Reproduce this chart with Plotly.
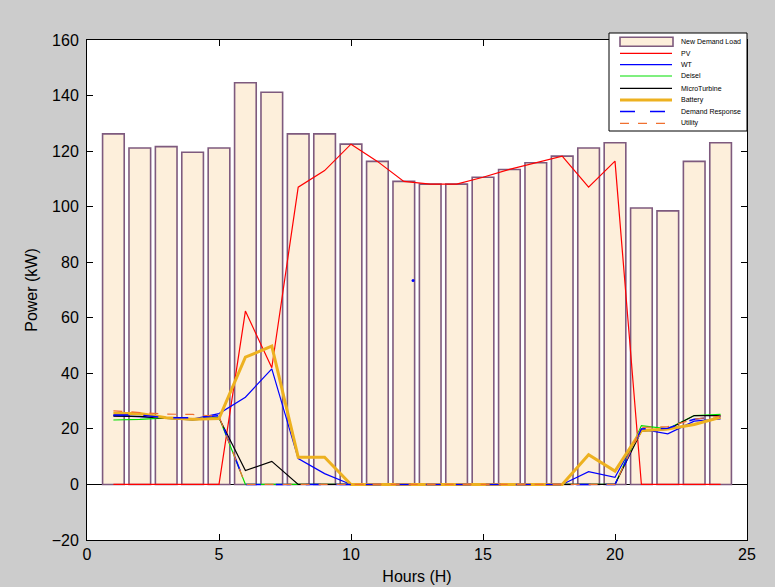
import plotly.graph_objects as go

hours = list(range(1, 25))
demand_load = [126.2, 121.1, 121.6, 119.6, 121.1, 144.6, 141.2, 126.2, 126.2, 122.5, 116.3, 109.1,
               108.1, 108.1, 110.6, 113.4, 115.8, 118.2, 121.1, 123.0, 99.5, 98.5, 116.3, 123.0]
pv = [0, 0, 0, 0, 0, 62.4, 42, 107, 113, 122.5, 116.3, 109.1,
      108.1, 108.1, 110.6, 113.4, 115.8, 118.2, 107, 116.4, 0, 0, 0, 0]
wt = [24.8, 24.5, 24, 23.5, 25.5, 31.4, 41.6, 9.3, 3.9, 0, 0, 0,
      0, 0, 0, 0, 0, 0, 4.6, 2.6, 19.9, 18.2, 22.8, 23.6]
diesel = [23.2, 23.4, 24, 23.5, 24.2, 0, 0, 0, 0, 0, 0, 0,
          0, 0, 0, 0, 0, 0, 0, 0, 21.2, 20, 24.8, 25.2]
microturbine = [24.6, 24.5, 23.8, 23.2, 24, 5, 8.3, 0, 0, 0, 0, 0,
                0, 0, 0, 0, 0, 0, 0, 0, 19.2, 19.8, 24.8, 24.8]
battery = [25.5, 25.5, 24, 23.5, 23.7, 45.8, 49.8, 9.8, 9.8, 0, 0, 0,
           0, 0, 0, 0, 0, 0, 10.7, 4.8, 19.4, 20, 21.6, 24.2]
demand_response = [25, 25, 24, 24, 24.8, 0, 0, 0, 0, 0, 0, 0,
                   0, 0, 0, 0, 0, 0, 0, 0, 20, 20.2, 23.5, 24.5]
utility = [26.5, 25.8, 25.3, 25.2, 24.5, 0, 0, 0, 0, 0, 0, 0,
           0, 0, 0, 0, 0, 0, 0, 0, 20.5, 20.8, 23.5, 24.6]
stray_x = [12.35]
stray_y = [73.4]

bar_fill = "#FDEFDB"
bar_edge = "#7E5A7E"
line_series = [
    ("PV", pv, "#FF0000", 1.2, "solid"),
    ("WT", wt, "#0000FF", 1.2, "solid"),
    ("Deisel", diesel, "#00E000", 1.2, "solid"),
    ("MicroTurbine", microturbine, "#000000", 1.2, "solid"),
    ("Battery", battery, "#EDB120", 3, "solid"),
    ("Demand Response", demand_response, "#0000FF", 1.5, "longdash"),
    ("Utility", utility, "#F07030", 1.2, "dash"),
]

fig = go.Figure()
fig.add_trace(go.Bar(x=hours, y=demand_load, name="New Demand Load", showlegend=False,
                     marker=dict(color=bar_fill, line=dict(color=bar_edge, width=1.6))))
for name, vals, color, width, dash in line_series:
    fig.add_trace(go.Scatter(x=hours, y=vals, name=name, mode="lines", showlegend=False,
                             line=dict(color=color, width=width, dash=dash)))
fig.add_trace(go.Scatter(x=stray_x, y=stray_y, mode="markers", showlegend=False,
                         marker=dict(color="#0000FF", size=3)))

# Manual MATLAB-style legend (pixel layout converted to paper coordinates)
W, H = 775, 587
L, R, T, B = 87, 28, 40, 47
pw, ph = W - L - R, H - T - B
def px(x):
    return (x - L) / pw
def py(y):
    return (H - B - y) / ph

shapes = [dict(type="rect", xref="paper", yref="paper", x0=px(609), x1=px(747), y0=py(131), y1=py(33),
               fillcolor="#FFFFFF", line=dict(color="#000000", width=1), layer="above")]
annotations = []
row_y = [41.7, 53.3, 64.7, 76, 88.3, 100, 111.5, 123.3]
legend_font = dict(family="Liberation Sans, Arial, sans-serif", size=7, color="#000000")
shapes.append(dict(type="rect", xref="paper", yref="paper", x0=px(620), x1=px(673),
                   y0=py(row_y[0] + 4.5), y1=py(row_y[0] - 4.5),
                   fillcolor=bar_fill, line=dict(color=bar_edge, width=1.6), layer="above"))
annotations.append(dict(xref="paper", yref="paper", x=px(679), y=py(row_y[0]), text="New Demand Load",
                        showarrow=False, xanchor="left", yanchor="middle", font=legend_font))
for (name, vals, color, width, dash), ry in zip(line_series, row_y[1:]):
    shapes.append(dict(type="line", xref="paper", yref="paper", x0=px(620), x1=px(672),
                       y0=py(ry), y1=py(ry), line=dict(color=color, width=width, dash=dash),
                       layer="above"))
    annotations.append(dict(xref="paper", yref="paper", x=px(679), y=py(ry), text=name,
                            showarrow=False, xanchor="left", yanchor="middle", font=legend_font))

font_family = "Liberation Sans, Arial, sans-serif"
fig.update_layout(
    width=W, height=H,
    paper_bgcolor="#CCCCCC", plot_bgcolor="#FFFFFF",
    margin=dict(l=L, r=R, t=T, b=B),
    bargap=0.18,
    showlegend=False,
    font=dict(family=font_family, size=16, color="#000000"),
    xaxis=dict(range=[0, 25], dtick=5, ticks="inside", ticklen=6, tickcolor="#000000",
               showline=True, linecolor="#000000", linewidth=1, mirror="ticks",
               showgrid=False, zeroline=False, automargin=False,
               title=dict(text="Hours (H)", standoff=8, font=dict(size=16))),
    yaxis=dict(range=[-20, 160], dtick=20, ticks="inside", ticklen=6, tickcolor="#000000",
               showline=True, linecolor="#000000", linewidth=1, mirror="ticks",
               showgrid=False, zeroline=True, zerolinecolor="#000000", zerolinewidth=1,
               automargin=False, ticklabelstandoff=4,
               title=dict(text="Power (kW)", standoff=10, font=dict(size=16))),
    shapes=shapes,
    annotations=annotations,
)
fig.write_html("out.html", config={"displayModeBar": False},
               post_script="document.body.style.margin='0';document.body.style.background='#CCCCCC';")
